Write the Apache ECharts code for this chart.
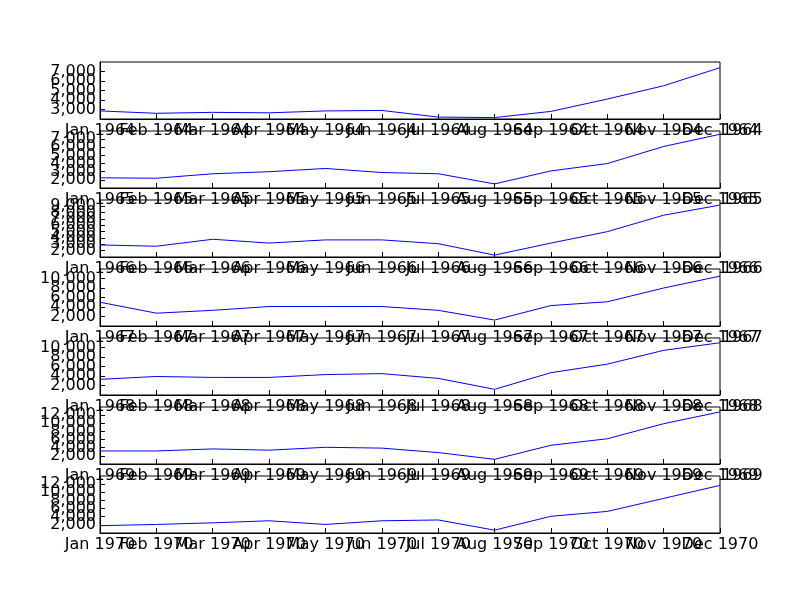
<!DOCTYPE html>
<html>
<head>
<meta charset="utf-8">
<script src="https://cdn.jsdelivr.net/npm/echarts@6/dist/echarts.min.js"></script>
<style>body{margin:0;background:#fff}#chart{width:800px;height:600px}</style>
</head>
<body>
<div id="chart"></div>
<script>
var months = ['Jan', 'Feb', 'Mar', 'Apr', 'May', 'Jun', 'Jul', 'Aug', 'Sep', 'Oct', 'Nov', 'Dec'];
var years = [1964, 1965, 1966, 1967, 1968, 1969, 1970];
var titles = ['', '1964', '1965', '1966', '1967', '1968', '1969'];
var yMin = [2000, 1000, 1000, 0, 0, 0, 0];
var yMax = [8000, 8000, 10000, 12000, 12000, 14000, 14000];
var yStep = [1000, 1000, 1000, 2000, 2000, 2000, 2000];
var s1964 = [2850, 2600, 2700, 2650, 2850, 2900, 2200, 2150, 2800, 4100, 5500, 7400];
var s1965 = [2250, 2200, 2750, 3000, 3400, 2900, 2750, 1500, 3100, 4000, 6100, 7600];
var s1966 = [2900, 2700, 3800, 3200, 3700, 3700, 3100, 1300, 3200, 5000, 7600, 9200];
var s1967 = [5000, 2700, 3300, 4100, 4100, 4100, 3300, 1250, 4300, 5100, 8000, 10500];
var s1968 = [3300, 3900, 3700, 3700, 4300, 4500, 3500, 1200, 4700, 6500, 9400, 11000];
var s1969 = [3200, 3200, 3700, 3400, 4100, 3900, 2800, 1150, 4600, 6200, 9900, 12800];
var s1970 = [1800, 2100, 2500, 3000, 2100, 3000, 3200, 700, 4100, 5300, 8500, 11700];
var allSeries = [s1964, s1965, s1966, s1967, s1968, s1969, s1970];

var myChart = echarts.init(document.getElementById('chart'));
var grids = [], xAxes = [], yAxes = [], series = [], texts = [];
var font = 'DejaVu Sans';
for (var i = 0; i < 7; i++) {
	var gTop = 62 + i * 69;
	grids.push({left: 100, width: 620, top: gTop, height: 57, show: true, borderColor: '#000', borderWidth: 1, backgroundColor: '#fff'});
	xAxes.push({
		type: 'category', gridIndex: i, boundaryGap: false,
		data: months.map(function(m) { return m + ' ' + years[i]; }),
		axisLine: {lineStyle: {color: '#000'}},
		axisTick: {inside: true, length: 5, lineStyle: {color: '#000'}},
		axisLabel: {interval: 0, hideOverlap: false, color: '#000', fontSize: 16, fontFamily: font, margin: 4},
		splitLine: {show: false}
	});
	yAxes.push({
		type: 'value', gridIndex: i, min: yMin[i], max: yMax[i], interval: yStep[i],
		axisLine: {show: true, lineStyle: {color: '#000'}},
		axisTick: {show: true, inside: true, length: 5, lineStyle: {color: '#000'}},
		axisLabel: {color: '#000', fontSize: 16, fontFamily: font, margin: 4, hideOverlap: false},
		splitLine: {show: false}
	});
	series.push({type: 'line', xAxisIndex: i, yAxisIndex: i, data: allSeries[i], symbol: 'none',
		lineStyle: {color: '#0000ff', width: 1}, z: 3});
	if (titles[i]) {
		texts.push({type: 'text', left: 722, top: gTop - 8, style: {text: titles[i], fill: '#000', font: '16px "DejaVu Sans"'}, z: 10});
	}
}
myChart.setOption({
	animation: false,
	grid: grids,
	xAxis: xAxes,
	yAxis: yAxes,
	series: series,
	graphic: texts
});
</script>
</body>
</html>
